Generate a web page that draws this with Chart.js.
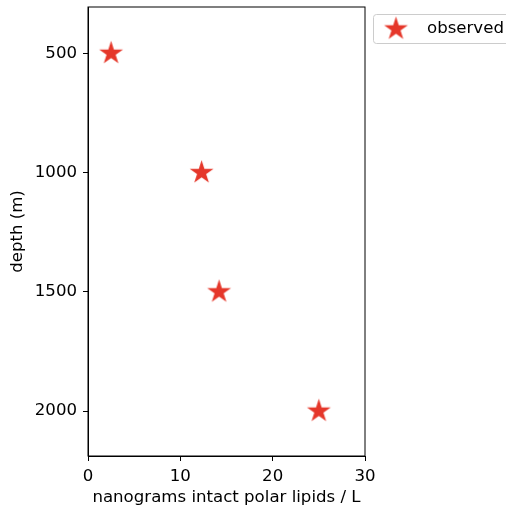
<!DOCTYPE html>
<html>
<head>
<meta charset="utf-8">
<script src="https://cdn.jsdelivr.net/npm/chart.js@4.4.1/dist/chart.umd.min.js"></script>
<style>
  html, body { margin: 0; padding: 0; background: #fff; }
  canvas { display: block; }
</style>
</head>
<body>
<canvas id="chart" width="506" height="511"></canvas>
<script>
(function () {
    'use strict';

    const lipids = [2.5, 12.3, 14.2, 25.0];
    const depths = [500, 1000, 1500, 2000];
    const xTicks = [0, 10, 20, 30];
    const yTicks = [500, 1000, 1500, 2000];
    const seriesName = 'observed';
    const xLabel = 'nanograms intact polar lipids / L';
    const yLabel = 'depth (m)';

    const red = '#e5372a';
    const font = 'DejaVu Sans';
    const fontSize = 16.6;

    // filled five point star, like matplotlib's '*'
    const makeStar = function (r) {
        const size = Math.ceil(r * 2 + 4);
        const c = document.createElement('canvas');
        c.width = size;
        c.height = size;
        const ctx = c.getContext('2d');
        const cx = size / 2, cy = size / 2;
        ctx.beginPath();
        for (let i = 0; i < 10; i++) {
            const rad = i % 2 === 0 ? r : r * 0.381966;
            const a = -Math.PI / 2 + i * Math.PI / 5;
            const px = cx + rad * Math.cos(a), py = cy + rad * Math.sin(a);
            if (i === 0) ctx.moveTo(px, py); else ctx.lineTo(px, py);
        }
        ctx.closePath();
        ctx.fillStyle = red;
        ctx.fill();
        return c;
    };
    const star = makeStar(12.5);

    const frame = {
        id: 'frame',
        afterDraw(chart) {
            const { ctx, chartArea: a } = chart;
            ctx.save();
            ctx.strokeStyle = '#000';
            ctx.lineWidth = 1;
            ctx.strokeRect(a.left, a.top, a.right - a.left, a.bottom - a.top);

            // legend, outside to the right
            const x = 373.5, y = 14.5, w = 150, h = 29;
            ctx.strokeStyle = '#cccccc';
            ctx.fillStyle = 'rgba(255,255,255,0.8)';
            ctx.beginPath();
            ctx.roundRect(x, y, w, h, 3);
            ctx.fill();
            ctx.stroke();
            ctx.drawImage(star, 396 - star.width / 2, 29 - star.height / 2);
            ctx.fillStyle = '#000';
            ctx.font = fontSize + 'px "' + font + '"';
            ctx.textBaseline = 'middle';
            ctx.fillText(seriesName, 427, 29);
            ctx.restore();
        }
    };

    new Chart(document.getElementById('chart'), {
        type: 'scatter',
        data: {
            datasets: [{
                label: seriesName,
                data: lipids.map((v, i) => ({ x: v, y: depths[i] })),
                pointStyle: star,
                backgroundColor: red,
                borderColor: red
            }]
        },
        options: {
            responsive: false,
            animation: false,
            layout: { padding: { top: 7, right: 141, left: 0, bottom: 0 } },
            plugins: { legend: { display: false }, tooltip: { enabled: false } },
            scales: {
                x: {
                    type: 'linear',
                    min: 0,
                    max: 30,
                    afterBuildTicks: s => { s.ticks = xTicks.map(v => ({ value: v })); },
                    afterFit: s => { s.height = 55; s.paddingLeft = 0; },
                    grid: { drawOnChartArea: false, drawTicks: true, tickLength: 5, tickColor: '#000' },
                    border: { display: true, color: '#000' },
                    ticks: { color: '#000', padding: 6, font: { family: font, size: fontSize }, maxRotation: 0, callback: v => String(v) },
                    title: { display: true, text: xLabel, color: '#000', padding: { top: 3, bottom: 3 }, font: { family: font, size: fontSize } }
                },
                y: {
                    type: 'linear',
                    reverse: true,
                    min: 306,
                    max: 2188,
                    afterBuildTicks: s => { s.ticks = yTicks.map(v => ({ value: v })); },
                    afterFit: s => { s.width = 88; s.paddingTop = 0; s.paddingBottom = 0; },
                    grid: { drawOnChartArea: false, drawTicks: true, tickLength: 5, tickColor: '#000' },
                    border: { display: true, color: '#000' },
                    ticks: { color: '#000', padding: 6, font: { family: font, size: fontSize }, callback: v => String(v) },
                    title: { display: true, text: yLabel, color: '#000', padding: { top: 8, bottom: 0 }, font: { family: font, size: fontSize } }
                }
            }
        },
        plugins: [frame]
    });
})();
</script>
</body>
</html>
